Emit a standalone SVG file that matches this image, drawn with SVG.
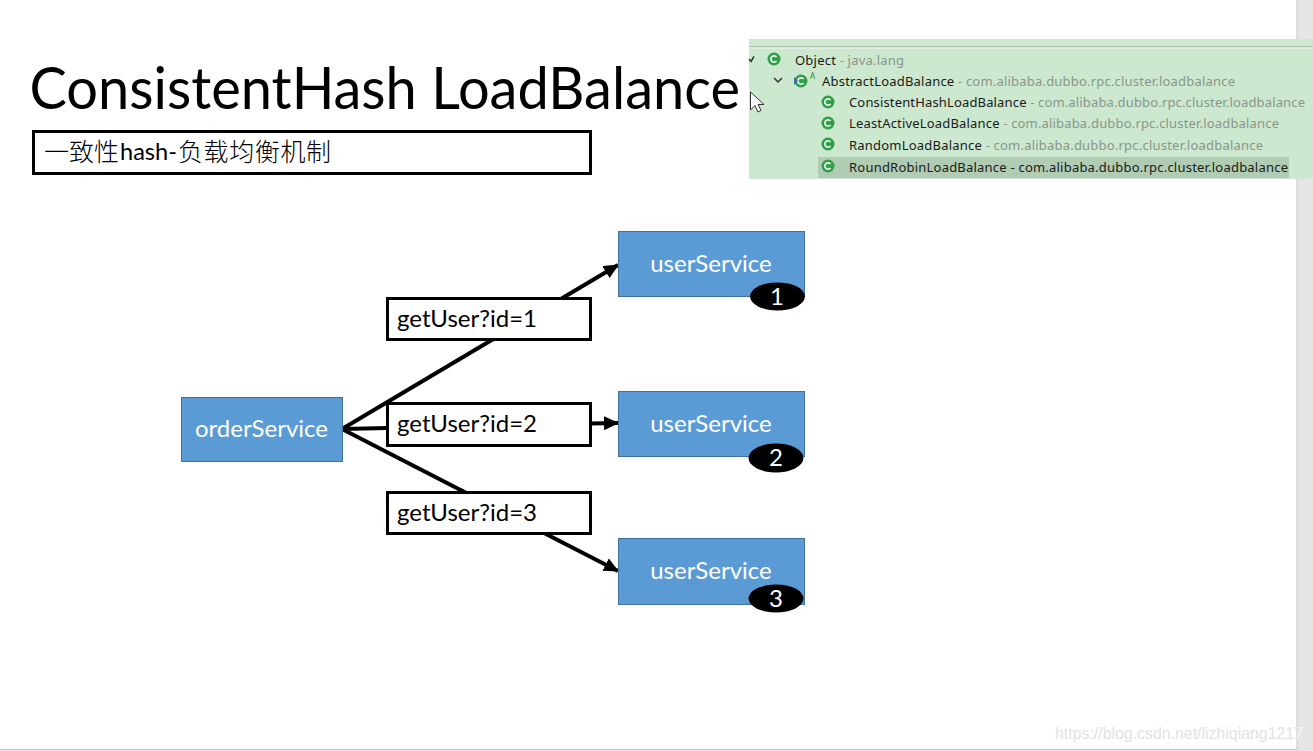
<svg xmlns="http://www.w3.org/2000/svg" width="1313" height="751" viewBox="0 0 1313 751">
<style>
  .ui { font-family: Lato, "Noto Sans CJK SC", "Open Sans", sans-serif; }
  .node { fill: #5b9bd5; stroke: #41719c; stroke-width: 1; }
  .nlabel { font-size: 24px; fill: #fff; text-anchor: middle; }
  .box { fill: #fff; stroke: #000; stroke-width: 3; }
  .blabel { font-size: 24px; fill: #000; }
  .badge { font-size: 24px; fill: #fff; text-anchor: middle; }
  .edge { fill: none; stroke: #000; stroke-width: 4; }
  .tree { font-family: "Noto Sans", sans-serif; font-size: 13px; fill: #1a1a1a; }
  .pkg { fill: #8a968c; }
  .ico { fill: #2f9e48; }
  .icoC { fill: none; stroke: #e6f3e6; stroke-width: 1.8; }
  .cjk { font-family: "Noto Sans CJK SC", sans-serif; font-size: 25px; font-weight: 300; }
  .mark { font-family: "Liberation Sans", sans-serif; font-size: 16.500px; }
</style>
<defs>
  <marker id="arrow" markerUnits="userSpaceOnUse" markerWidth="15" markerHeight="14" refX="14" refY="7" orient="auto">
    <path d="M0 0L15 7L0 14z" fill="#000"/>
  </marker>
  <g id="cls">
    <circle class="ico" r="6.5"/>
    <path class="icoC" d="M2.6 -2A3.2 3.2 0 1 0 2.6 2"/>
  </g>
  <clipPath id="strip"><rect x="1297" y="700" width="16" height="50"/></clipPath>
</defs>

<rect width="1313" height="751" fill="#fff"/>
<rect x="1297" y="0" width="16" height="751" fill="#e6e6e6"/>
<rect x="1296.500" y="0" width="1" height="750" fill="#c8c8c8"/>
<rect x="0" y="749" width="1297" height="1" fill="#c8c8c8"/>
<rect x="0" y="750" width="1313" height="1" fill="#e6e6e6"/>

<text class="ui" x="29.500" y="108.500" font-size="58" textLength="710.500" lengthAdjust="spacingAndGlyphs" fill="#000">ConsistentHash LoadBalance</text>

<g id="subtitle">
  <rect class="box" x="33.500" y="131.500" width="557" height="42"/>
  <text x="44" y="161" class="cjk" fill="#000">一致性</text>
  <text x="120" y="160" class="ui" font-size="24" textLength="57" lengthAdjust="spacingAndGlyphs" fill="#000">hash-</text>
  <text x="178" y="161" class="cjk" textLength="153" fill="#000">负载均衡机制</text>
</g>

<g id="class-tree">
  <rect x="749" y="39" width="564" height="140" fill="#cce8cf"/>
  <rect x="749" y="46" width="564" height="1.500" fill="#b4beb6"/>
  <rect x="749" y="47.500" width="564" height="1" fill="#f2f8f2"/>
  <rect x="818" y="157" width="471" height="21" fill="#b0ccb3"/>
  <path d="M749 59l2 2.500l3-5" fill="none" stroke="#333" stroke-width="1.500"/>
  <path d="M774 78l4 4l4-4" fill="none" stroke="#333" stroke-width="1.500"/>
  <use href="#cls" x="774" y="59"/>
  <use href="#cls" x="801" y="81"/>
  <path d="M794 77l4 4l-4 4z" fill="#3a6fb0"/>
  <text x="810" y="79" font-family="Noto Sans, sans-serif" font-size="8" fill="#2f7d46">A</text>
  <use href="#cls" x="828" y="102"/>
  <use href="#cls" x="828" y="123"/>
  <use href="#cls" x="828" y="144"/>
  <use href="#cls" x="828" y="166"/>
  <text class="tree" x="795" y="64.500" textLength="109">Object <tspan class="pkg">- java.lang</tspan></text>
  <text class="tree" x="822" y="86" textLength="413">AbstractLoadBalance <tspan class="pkg">- com.alibaba.dubbo.rpc.cluster.loadbalance</tspan></text>
  <text class="tree" x="849" y="107" textLength="456">ConsistentHashLoadBalance <tspan class="pkg">- com.alibaba.dubbo.rpc.cluster.loadbalance</tspan></text>
  <text class="tree" x="849" y="128" textLength="430">LeastActiveLoadBalance <tspan class="pkg">- com.alibaba.dubbo.rpc.cluster.loadbalance</tspan></text>
  <text class="tree" x="849" y="149.500" textLength="414">RandomLoadBalance <tspan class="pkg">- com.alibaba.dubbo.rpc.cluster.loadbalance</tspan></text>
  <text class="tree" x="849" y="171.500" textLength="439">RoundRobinLoadBalance - com.alibaba.dubbo.rpc.cluster.loadbalance</text>
  <path d="M750.500 92V110L755 105.500L758 112L761 110.500L758 104.500L764 104.500Z" fill="#fff" stroke="#333" stroke-width="1"/>
</g>

<g id="connectors">
  <path class="edge" marker-end="url(#arrow)" d="M342 429L618 265"/>
  <path class="edge" marker-end="url(#arrow)" d="M342 429L388 428M590 423.500L618 423"/>
  <path class="edge" marker-end="url(#arrow)" d="M342 429L618 571"/>
</g>

<g id="orderService">
  <rect class="node" x="181.500" y="397.500" width="161" height="64"/>
  <text class="ui nlabel" x="261.500" y="437">orderService</text>
</g>
<g id="userService1">
  <rect class="node" x="618.500" y="231.500" width="186" height="65"/>
  <text class="ui nlabel" x="711" y="272">userService</text>
  <ellipse cx="777.500" cy="296.500" rx="27.500" ry="14"/>
  <text class="ui badge" x="777" y="305">1</text>
</g>
<g id="userService2">
  <rect class="node" x="618.500" y="391.500" width="186" height="65"/>
  <text class="ui nlabel" x="711" y="432">userService</text>
  <ellipse cx="776" cy="458" rx="27.500" ry="14.500"/>
  <text class="ui badge" x="776" y="466">2</text>
</g>
<g id="userService3">
  <rect class="node" x="618.500" y="538.500" width="186" height="66"/>
  <text class="ui nlabel" x="711" y="579">userService</text>
  <ellipse cx="776" cy="598.500" rx="27.500" ry="14"/>
  <text class="ui badge" x="776" y="607">3</text>
</g>

<g id="label1">
  <rect class="box" x="387.500" y="298.500" width="203" height="41"/>
  <text class="ui blabel" x="397" y="327">getUser?id=1</text>
</g>
<g id="label2">
  <rect class="box" x="387.500" y="403.500" width="203" height="42"/>
  <text class="ui blabel" x="397" y="432">getUser?id=2</text>
</g>
<g id="label3">
  <rect class="box" x="387.500" y="492.500" width="203" height="41"/>
  <text class="ui blabel" x="397" y="521">getUser?id=3</text>
</g>

<text class="mark" x="1055" y="739" textLength="248" lengthAdjust="spacingAndGlyphs" fill="#e2e2e2">https://blog.csdn.net/lizhiqiang1217</text>
<text class="mark" x="1055" y="739" textLength="248" lengthAdjust="spacingAndGlyphs" fill="#f6f6f6" clip-path="url(#strip)" aria-hidden="true">https://blog.csdn.net/lizhiqiang1217</text>
</svg>
